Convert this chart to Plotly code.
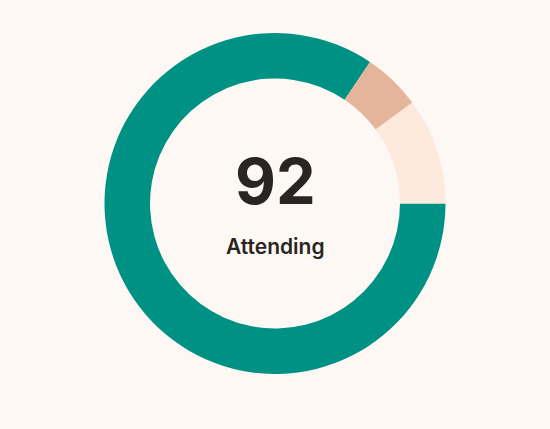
import plotly.graph_objects as go

labels = ["Attending", "Maybe", "Declined"]
values = [92, 6, 11]
colors = ["#009185", "#E4B59A", "#FDEADD"]
center_value = "92"
center_label = "Attending"

W, H = 550, 429
mt, mb = 33, 55
ph = H - mt - mb

def py(y):
    return (H - mb - y) / ph

fig = go.Figure(go.Pie(
    labels=labels, values=values, hole=0.733, sort=False,
    direction="clockwise", rotation=90,
    marker=dict(colors=colors, line=dict(width=0)),
    textinfo="none", hoverinfo="label+value", showlegend=False,
))
fig.add_annotation(text=center_value, x=0.5, y=py(181), xref="paper", yref="paper",
                   showarrow=False, font=dict(family="Inter", size=63, color="#2A2522", weight=700))
fig.add_annotation(text=center_label, x=0.5, y=py(246), xref="paper", yref="paper",
                   showarrow=False, font=dict(family="Inter", size=21, color="#2A2522", weight=600))
fig.update_layout(width=W, height=H, margin=dict(l=0, r=0, t=mt, b=mb),
                  paper_bgcolor="#FDF8F4", plot_bgcolor="#FDF8F4")
fig.write_html("out.html")
